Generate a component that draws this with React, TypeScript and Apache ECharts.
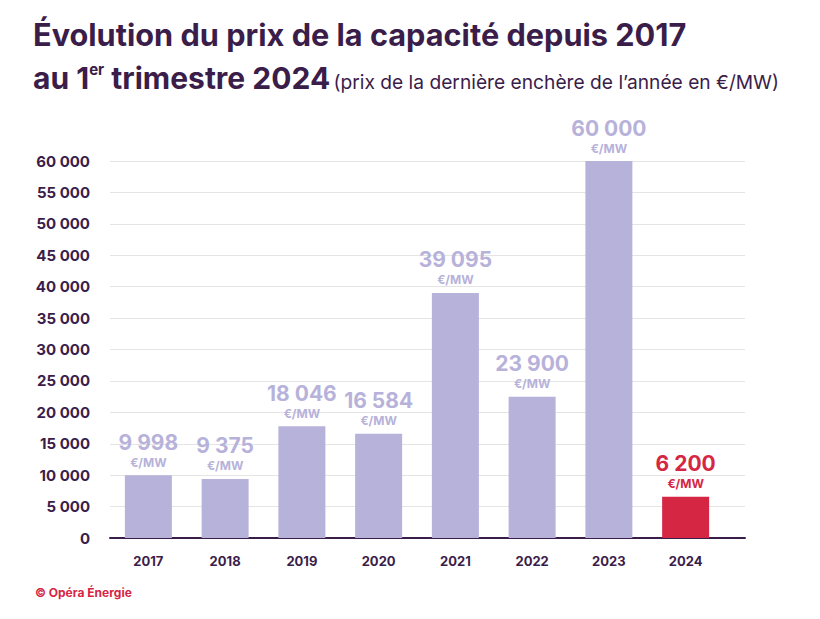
import React, { useEffect, useRef } from "react";
import * as echarts from "echarts";

const categories = ["2017", "2018", "2019", "2020", "2021", "2022", "2023", "2024"];
// bar heights as drawn in the picture
const barValues = [10000, 9400, 17800, 16600, 39000, 22500, 60000, 6550];
// prices printed above the bars
const labelValues = [9998, 9375, 18046, 16584, 39095, 23900, 60000, 6200];
const yTicks = { min: 0, max: 60000, interval: 5000 };

const LAV = "#b7b2da";
const RED = "#d52644";
const DARK = "#3b1d4a";
const FONT = "Inter, 'Open Sans', sans-serif";

const fmt = (v: number) => String(v).replace(/\B(?=(\d{3})+(?!\d))/g, " ");

export default function App() {
  const ref = useRef<HTMLDivElement>(null);
  useEffect(() => {
    const chart = echarts.init(ref.current!, null, { renderer: "svg" });
    const last = categories.length - 1;
    chart.setOption({
      animation: false,
      textStyle: { fontFamily: FONT },
      grid: [
        { left: 110, right: 75, top: 161, bottom: 81 },
        { left: 110, right: 96, top: 161, bottom: 81 },
      ],
      graphic: [
        {
          type: "text",
          left: 33,
          top: 19,
          style: {
            text: "Évolution du prix de la capacité depuis 2017",
            font: `700 30.7px ${FONT}`,
            fill: DARK,
          },
        },
        {
          type: "text",
          left: 33,
          top: 55,
          style: {
            text: "{b|au 1}{s|er}{b| trimestre 2024} {r|(prix de la dernière enchère de l’année en €/MW)}",
            fill: DARK,
            rich: {
              b: { fontFamily: FONT, fontWeight: 700, fontSize: 30, fill: DARK, lineHeight: 38, verticalAlign: "bottom" },
              s: { fontFamily: FONT, fontWeight: 700, fontSize: 15, fill: DARK, lineHeight: 38, verticalAlign: "top", padding: [7, 0, 0, 0] },
              r: { fontFamily: FONT, fontWeight: 400, fontSize: 19.2, fill: DARK, lineHeight: 38, verticalAlign: "bottom", padding: [0, 0, 2, 0] },
            },
          },
        },
        {
          type: "text",
          left: 35,
          top: 586,
          style: {
            text: "© Opéra Énergie",
            font: `700 12px ${FONT}`,
            fill: RED,
          },
        },
      ],
      xAxis: [
        {
          type: "value",
          gridIndex: 0,
          min: 0,
          max: 1,
          axisLine: { show: true, onZero: false, lineStyle: { color: DARK, width: 2 } },
          axisTick: { show: false },
          axisLabel: { show: false },
          splitLine: { show: false },
        },
        {
          type: "category",
          gridIndex: 1,
          data: categories,
          axisLine: { show: false },
          axisTick: { show: false },
          axisLabel: { color: DARK, fontWeight: 700, fontSize: 13, margin: 16, fontFamily: FONT },
        },
      ],
      yAxis: [
        {
          type: "value",
          gridIndex: 0,
          min: yTicks.min,
          max: yTicks.max,
          interval: yTicks.interval,
          axisLine: { show: false },
          axisTick: { show: false },
          splitLine: { lineStyle: { color: "#e4e4e4", width: 1 } },
          axisLabel: {
            color: DARK,
            fontWeight: 700,
            fontSize: 15,
            margin: 20,
            fontFamily: FONT,
            formatter: (v: number) => fmt(v),
          },
        },
        {
          type: "value",
          gridIndex: 1,
          min: yTicks.min,
          max: yTicks.max,
          interval: yTicks.interval,
          show: false,
          splitLine: { show: false },
        },
      ],
      series: [
        {
          type: "bar",
          xAxisIndex: 1,
          yAxisIndex: 1,
          barWidth: 47,
          data: barValues.map((v, i) => ({
            value: v,
            itemStyle: { color: i === last ? RED : LAV },
            label: {
              show: true,
              position: "top",
              distance: 5,
              align: "center",
              formatter: `{v|${fmt(labelValues[i])}}\n{u|€/MW}`,
              rich: {
                v: { fontFamily: FONT, fontWeight: 700, fontSize: 21, color: i === last ? RED : LAV, lineHeight: 24, align: "center" },
                u: { fontFamily: FONT, fontWeight: 700, fontSize: 12, color: i === last ? RED : LAV, lineHeight: 16, align: "center" },
              },
            },
          })),
        },
      ],
    });
    return () => chart.dispose();
  }, []);
  return <div ref={ref} style={{ width: 820, height: 619, margin: -8 }} />;
}
